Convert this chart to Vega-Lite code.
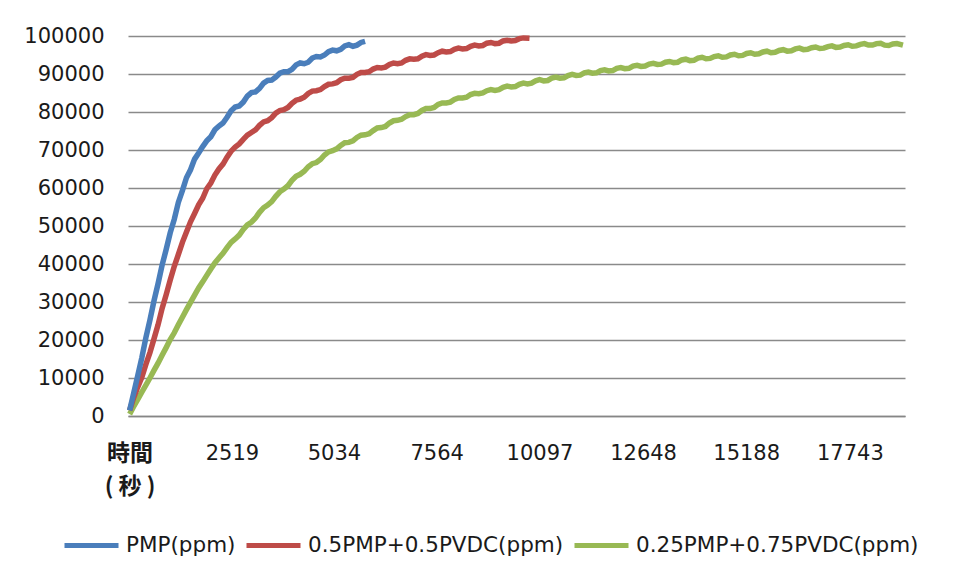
{
 "$schema": "https://vega.github.io/schema/vega-lite/v6.json",
 "autosize": {"type": "none"},
 "width": 777,
 "height": 380,
 "padding": {"left": 128, "top": 36, "right": 53, "bottom": 164},
 "background": "white",
 "config": {"view": {"stroke": null}, "font": "DejaVu Sans"},
 "datasets": {
  "pmp": [
   {"t":0,"v":1500},{"t":100,"v":6000},{"t":200,"v":10600},{"t":300,"v":15300},{"t":400,"v":20600},{"t":500,"v":25200},{"t":600,"v":30300},{"t":700,"v":34800},{"t":800,"v":39700},{"t":900,"v":43800},{"t":1000,"v":48200},{"t":1100,"v":51800},{"t":1200,"v":56200},{"t":1300,"v":59300},{"t":1400,"v":62700},{"t":1500,"v":64800},{"t":1600,"v":67600},{"t":1700,"v":69200},{"t":1800,"v":70900},{"t":1900,"v":72400},{"t":2000,"v":73500},{"t":2100,"v":75300},{"t":2200,"v":76300},{"t":2300,"v":77100},{"t":2400,"v":78600},{"t":2500,"v":80300},{"t":2600,"v":81300},{"t":2700,"v":81600},{"t":2800,"v":82600},{"t":2900,"v":84200},{"t":3000,"v":85100},{"t":3100,"v":85300},{"t":3200,"v":86200},{"t":3300,"v":87600},{"t":3400,"v":88300},{"t":3500,"v":88400},{"t":3600,"v":89200},{"t":3700,"v":90200},{"t":3800,"v":90600},{"t":3900,"v":90600},{"t":4000,"v":91200},{"t":4100,"v":92400},{"t":4200,"v":92900},{"t":4300,"v":92700},{"t":4400,"v":93100},{"t":4500,"v":94200},{"t":4600,"v":94600},{"t":4700,"v":94500},{"t":4800,"v":95000},{"t":4900,"v":95900},{"t":5000,"v":96300},{"t":5100,"v":96100},{"t":5200,"v":96500},{"t":5300,"v":97400},{"t":5400,"v":97700},{"t":5500,"v":97300},{"t":5600,"v":97600},{"t":5700,"v":98300},{"t":5800,"v":98600}
  ],
  "mix50": [
   {"t":0,"v":1500},{"t":100,"v":4800},{"t":200,"v":7600},{"t":300,"v":10200},{"t":400,"v":13600},{"t":500,"v":16700},{"t":600,"v":20300},{"t":700,"v":24000},{"t":800,"v":28300},{"t":900,"v":31900},{"t":1000,"v":35800},{"t":1100,"v":39400},{"t":1200,"v":42500},{"t":1300,"v":45700},{"t":1400,"v":48400},{"t":1500,"v":51100},{"t":1600,"v":53300},{"t":1700,"v":55600},{"t":1800,"v":57300},{"t":1900,"v":59800},{"t":2000,"v":61300},{"t":2100,"v":63400},{"t":2200,"v":65000},{"t":2300,"v":66300},{"t":2400,"v":68100},{"t":2500,"v":69700},{"t":2600,"v":70800},{"t":2700,"v":71600},{"t":2800,"v":72800},{"t":2900,"v":73900},{"t":3000,"v":74600},{"t":3100,"v":75300},{"t":3200,"v":76500},{"t":3300,"v":77400},{"t":3400,"v":77700},{"t":3500,"v":78500},{"t":3600,"v":79700},{"t":3700,"v":80400},{"t":3800,"v":80600},{"t":3900,"v":81200},{"t":4000,"v":82300},{"t":4100,"v":83100},{"t":4200,"v":83400},{"t":4300,"v":83900},{"t":4400,"v":84900},{"t":4500,"v":85500},{"t":4600,"v":85600},{"t":4700,"v":85900},{"t":4800,"v":86700},{"t":4900,"v":87300},{"t":5000,"v":87400},{"t":5100,"v":87700},{"t":5200,"v":88500},{"t":5300,"v":88900},{"t":5400,"v":88900},{"t":5500,"v":89100},{"t":5600,"v":89900},{"t":5700,"v":90400},{"t":5800,"v":90400},{"t":5900,"v":90600},{"t":6000,"v":91300},{"t":6100,"v":91700},{"t":6200,"v":91600},{"t":6300,"v":91800},{"t":6400,"v":92500},{"t":6500,"v":92900},{"t":6600,"v":92700},{"t":6700,"v":92900},{"t":6800,"v":93600},{"t":6900,"v":94000},{"t":7000,"v":93900},{"t":7100,"v":94000},{"t":7200,"v":94700},{"t":7300,"v":95100},{"t":7400,"v":94900},{"t":7500,"v":95000},{"t":7600,"v":95600},{"t":7700,"v":96000},{"t":7800,"v":95800},{"t":7900,"v":95900},{"t":8000,"v":96500},{"t":8100,"v":96800},{"t":8200,"v":96600},{"t":8300,"v":96700},{"t":8400,"v":97300},{"t":8500,"v":97600},{"t":8600,"v":97400},{"t":8700,"v":97500},{"t":8800,"v":98100},{"t":8900,"v":98300},{"t":9000,"v":98000},{"t":9100,"v":98100},{"t":9200,"v":98700},{"t":9300,"v":98900},{"t":9400,"v":98700},{"t":9500,"v":98800},{"t":9600,"v":99300},{"t":9700,"v":99500},{"t":9850,"v":99400}
  ],
  "mix25": [
   {"t":0,"v":500},{"t":100,"v":2500},{"t":200,"v":4400},{"t":300,"v":6300},{"t":400,"v":8100},{"t":500,"v":10000},{"t":600,"v":12000},{"t":700,"v":13900},{"t":800,"v":16000},{"t":900,"v":18000},{"t":1000,"v":20100},{"t":1100,"v":21900},{"t":1200,"v":24000},{"t":1300,"v":26000},{"t":1400,"v":28000},{"t":1500,"v":29900},{"t":1600,"v":31800},{"t":1700,"v":33700},{"t":1800,"v":35300},{"t":1900,"v":37000},{"t":2000,"v":38700},{"t":2100,"v":40300},{"t":2200,"v":41600},{"t":2300,"v":42800},{"t":2400,"v":44300},{"t":2500,"v":45700},{"t":2600,"v":46600},{"t":2700,"v":47600},{"t":2800,"v":49100},{"t":2900,"v":50300},{"t":3000,"v":51000},{"t":3100,"v":52100},{"t":3200,"v":53600},{"t":3300,"v":54800},{"t":3400,"v":55500},{"t":3500,"v":56400},{"t":3600,"v":57800},{"t":3700,"v":59000},{"t":3800,"v":59700},{"t":3900,"v":60600},{"t":4000,"v":62000},{"t":4100,"v":63100},{"t":4200,"v":63600},{"t":4300,"v":64400},{"t":4400,"v":65600},{"t":4500,"v":66400},{"t":4600,"v":66700},{"t":4700,"v":67500},{"t":4800,"v":68700},{"t":4900,"v":69500},{"t":5000,"v":69800},{"t":5100,"v":70300},{"t":5200,"v":71200},{"t":5300,"v":71900},{"t":5400,"v":72000},{"t":5500,"v":72400},{"t":5600,"v":73300},{"t":5700,"v":73900},{"t":5800,"v":74000},{"t":5900,"v":74300},{"t":6000,"v":75100},{"t":6100,"v":75800},{"t":6200,"v":75900},{"t":6300,"v":76200},{"t":6400,"v":77100},{"t":6500,"v":77700},{"t":6600,"v":77800},{"t":6700,"v":78100},{"t":6800,"v":78800},{"t":6900,"v":79300},{"t":7000,"v":79300},{"t":7100,"v":79600},{"t":7200,"v":80400},{"t":7300,"v":80900},{"t":7400,"v":80900},{"t":7500,"v":81200},{"t":7600,"v":82000},{"t":7700,"v":82400},{"t":7800,"v":82400},{"t":7900,"v":82600},{"t":8000,"v":83300},{"t":8100,"v":83700},{"t":8200,"v":83700},{"t":8300,"v":83900},{"t":8400,"v":84600},{"t":8500,"v":84900},{"t":8600,"v":84800},{"t":8700,"v":85000},{"t":8800,"v":85600},{"t":8900,"v":85900},{"t":9000,"v":85700},{"t":9100,"v":85900},{"t":9200,"v":86500},{"t":9300,"v":86800},{"t":9400,"v":86600},{"t":9500,"v":86700},{"t":9600,"v":87300},{"t":9700,"v":87600},{"t":9800,"v":87400},{"t":9900,"v":87600},{"t":10000,"v":88200},{"t":10100,"v":88500},{"t":10200,"v":88200},{"t":10300,"v":88300},{"t":10400,"v":88900},{"t":10500,"v":89200},{"t":10600,"v":88900},{"t":10700,"v":89000},{"t":10800,"v":89600},{"t":10900,"v":89900},{"t":11000,"v":89600},{"t":11100,"v":89700},{"t":11200,"v":90300},{"t":11300,"v":90500},{"t":11400,"v":90200},{"t":11500,"v":90300},{"t":11600,"v":90900},{"t":11700,"v":91100},{"t":11800,"v":90800},{"t":11900,"v":90900},{"t":12000,"v":91500},{"t":12100,"v":91700},{"t":12200,"v":91400},{"t":12300,"v":91500},{"t":12400,"v":92100},{"t":12500,"v":92300},{"t":12600,"v":92000},{"t":12700,"v":92100},{"t":12800,"v":92600},{"t":12900,"v":92800},{"t":13000,"v":92500},{"t":13100,"v":92600},{"t":13200,"v":93100},{"t":13300,"v":93300},{"t":13400,"v":93000},{"t":13500,"v":93100},{"t":13600,"v":93700},{"t":13700,"v":93900},{"t":13800,"v":93500},{"t":13900,"v":93600},{"t":14000,"v":94200},{"t":14100,"v":94400},{"t":14200,"v":94000},{"t":14300,"v":94100},{"t":14400,"v":94600},{"t":14500,"v":94800},{"t":14600,"v":94400},{"t":14700,"v":94500},{"t":14800,"v":95000},{"t":14900,"v":95200},{"t":15000,"v":94800},{"t":15100,"v":94900},{"t":15200,"v":95400},{"t":15300,"v":95600},{"t":15400,"v":95200},{"t":15500,"v":95300},{"t":15600,"v":95800},{"t":15700,"v":96000},{"t":15800,"v":95600},{"t":15900,"v":95700},{"t":16000,"v":96200},{"t":16100,"v":96400},{"t":16200,"v":96000},{"t":16300,"v":96100},{"t":16400,"v":96600},{"t":16500,"v":96800},{"t":16600,"v":96400},{"t":16700,"v":96500},{"t":16800,"v":96900},{"t":16900,"v":97100},{"t":17000,"v":96700},{"t":17100,"v":96800},{"t":17200,"v":97200},{"t":17300,"v":97400},{"t":17400,"v":97000},{"t":17500,"v":97100},{"t":17600,"v":97500},{"t":17700,"v":97700},{"t":17800,"v":97300},{"t":17900,"v":97400},{"t":18000,"v":97800},{"t":18100,"v":98000},{"t":18200,"v":97600},{"t":18300,"v":97600},{"t":18400,"v":98000},{"t":18500,"v":98100},{"t":18600,"v":97600},{"t":18700,"v":97500},{"t":18800,"v":97900},{"t":18900,"v":98000},{"t":19050,"v":97600}
  ]
 },
 "encoding": {
  "x": {"field": "t", "type": "quantitative", "scale": {"domain": [-40, 19100], "nice": false, "zero": false},
   "axis": {"title": null, "values": [0, 2519, 5034, 7564, 10097, 12648, 15188, 17743], "format": "d", "grid": false, "ticks": false, "tickSize": 0, "domainColor": "#868686", "domainWidth": 1.5, "labelPadding": 26, "labelFlush": false, "labelOverlap": false, "labelColor": "#1a1a1a", "labelLineHeight": 33,
    "labelFont": {"condition": {"test": "datum.value == 0", "value": "Noto Sans CJK JP"}, "value": "DejaVu Sans"},
    "labelFontSize": {"condition": {"test": "datum.value == 0", "value": 23}, "value": 21},
    "labelFontWeight": {"condition": {"test": "datum.value == 0", "value": "bold"}, "value": "normal"},
    "labelExpr": "datum.value == 0 ? ['時間', '( 秒 )'] : datum.label"}},
  "y": {"field": "v", "type": "quantitative", "scale": {"domain": [0, 100000], "nice": false},
   "axis": {"title": null, "values": [0, 10000, 20000, 30000, 40000, 50000, 60000, 70000, 80000, 90000, 100000], "format": "d", "domain": false, "ticks": false, "tickSize": 0, "gridColor": "#8a8a8a", "gridWidth": 1.5, "labelPadding": 24, "labelFont": "DejaVu Sans", "labelFontSize": 21, "labelColor": "#1a1a1a", "labelFlush": false, "labelOverlap": false}}
 },
 "layer": [
  {
   "data": {"name": "mix25"},
   "mark": {"type": "line", "strokeWidth": 5.5},
   "encoding": {"stroke": {"datum": "0.25PMP+0.75PVDC(ppm)", "type": "nominal"}}
  },
  {
   "data": {"name": "mix50"},
   "mark": {"type": "line", "strokeWidth": 5.5},
   "encoding": {"stroke": {"datum": "0.5PMP+0.5PVDC(ppm)", "type": "nominal"}}
  },
  {
   "data": {"name": "pmp"},
   "mark": {"type": "line", "strokeWidth": 5.5},
   "encoding": {
    "stroke": {"datum": "PMP(ppm)", "type": "nominal",
     "scale": {"domain": ["PMP(ppm)", "0.5PMP+0.5PVDC(ppm)", "0.25PMP+0.75PVDC(ppm)"], "range": ["#4a7ebb", "#be4b48", "#98b954"]},
     "legend": {"orient": "none", "legendX": -66, "legendY": 480, "direction": "horizontal", "columns": 3, "title": null, "symbolType": "stroke", "symbolSize": 2916, "symbolStrokeWidth": 5, "labelFont": "DejaVu Sans", "labelFontSize": 21.5, "labelColor": "#1a1a1a", "labelOffset": 5, "columnPadding": 0, "padding": 0, "labelLimit": 400}}
   }
  }
 ]
}
